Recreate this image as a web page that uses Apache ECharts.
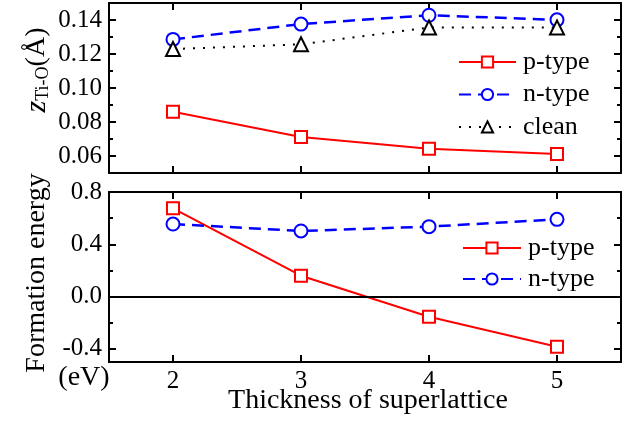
<!DOCTYPE html>
<html>
<head>
<meta charset="utf-8">
<script src="https://cdn.jsdelivr.net/npm/echarts@6/dist/echarts.min.js"></script>
<style>
html,body{margin:0;padding:0;background:#fff;}
#chart{width:635px;height:424px;}
</style>
</head>
<body>
<div id="chart"></div>
<script>
// ---- data ----
const categories = ['2', '3', '4', '5'];
const seriesNames = ['p-type', 'n-type', 'clean'];
const topP = [0.086, 0.0712, 0.0643, 0.0612];
const topN = [0.1286, 0.1376, 0.1428, 0.1401];
const topClean = [0.1229, 0.1257, 0.1356, 0.1356];
const botP = [0.675, 0.160, -0.154, -0.383];
const botN = [0.555, 0.502, 0.535, 0.591];
const topRange = [0.05, 0.15];
const topTickRange = [0.06, 0.14];
const botRange = [-0.5, 0.8];
const botTickRange = [-0.4, 0.8];

const FONT = 'Liberation Serif';
const RED = '#ff0000', BLUE = '#0000ff', BLACK = '#000000';

const L = 109, W = 512;
const G0 = {top: 3, h: 170}, G1 = {top: 192, h: 170};
function yPix(g, range, v) { return g.top + (range[1] - v) / (range[1] - range[0]) * g.h; }
const g2top = yPix(G0, topRange, topTickRange[1]);
const g2bot = yPix(G0, topRange, topTickRange[0]);
const g3top = yPix(G1, botRange, botTickRange[1]);
const g3bot = yPix(G1, botRange, botTickRange[0]);

const frameLine = {show: true, onZero: false, lineStyle: {color: BLACK, width: 2}};

function catAxis(grid, pos, labels) {
  return {
    type: 'category', gridIndex: grid, position: pos, data: categories, boundaryGap: true,
    axisLine: frameLine,
    axisTick: {show: true, inside: true, alignWithLabel: true, length: 7, lineStyle: {color: BLACK, width: 2}},
    axisLabel: {show: labels, color: BLACK, fontFamily: FONT, fontSize: 25, margin: 7},
    splitLine: {show: false}
  };
}
function frameY(grid, pos, range) {
  return {
    type: 'value', gridIndex: grid, position: pos, min: range[0], max: range[1],
    axisLine: frameLine, axisTick: {show: false}, axisLabel: {show: false}, splitLine: {show: false}
  };
}
function tickY(grid, pos, range, interval, labels, digits) {
  return {
    type: 'value', gridIndex: grid, position: pos, min: range[0], max: range[1], interval: interval,
    axisLine: {show: false},
    axisTick: {show: true, inside: true, length: 7, lineStyle: {color: BLACK, width: 2}},
    minorTick: {show: true, splitNumber: 2, length: 4, lineStyle: {color: BLACK, width: 2}},
    axisLabel: {show: labels, color: BLACK, fontFamily: FONT, fontSize: 25, margin: 7,
      formatter: v => Number(v).toFixed(digits)},
    splitLine: {show: false}, minorSplitLine: {show: false}
  };
}

const chart = echarts.init(document.getElementById('chart'), null, {renderer: 'canvas'});
const option = {
  backgroundColor: '#fff',
  animation: false,
  textStyle: {fontFamily: FONT},
  grid: [
    {left: L, width: W, top: G0.top, height: G0.h},
    {left: L, width: W, top: G1.top, height: G1.h},
    {left: L, width: W, top: g2top, height: g2bot - g2top},
    {left: L, width: W, top: g3top, height: g3bot - g3top}
  ],
  xAxis: [
    catAxis(0, 'bottom', false),
    catAxis(0, 'top', false),
    catAxis(1, 'bottom', true),
    catAxis(1, 'top', false),
    {type: 'category', gridIndex: 2, data: categories, show: false},
    {type: 'category', gridIndex: 3, data: categories, show: false}
  ],
  yAxis: [
    frameY(0, 'left', topRange),
    frameY(0, 'right', topRange),
    frameY(1, 'left', botRange),
    frameY(1, 'right', botRange),
    tickY(2, 'left', topTickRange, 0.02, true, 2),
    tickY(2, 'right', topTickRange, 0.02, false, 2),
    tickY(3, 'left', botTickRange, 0.4, true, 1),
    tickY(3, 'right', botTickRange, 0.4, false, 1)
  ],
  legend: [
    {
      data: seriesNames, orient: 'vertical', left: 458, top: 49, padding: 0,
      itemWidth: 57, itemHeight: 14, itemGap: 6.5,
      textStyle: {color: BLACK, fontFamily: FONT, fontSize: 26, padding: [0, 0, 0, 2]},
      selectedMode: false
    },
    {
      data: seriesNames.slice(0, 2), orient: 'vertical', left: 462, top: 235, padding: 0,
      itemWidth: 58, itemHeight: 14, itemGap: 5,
      textStyle: {color: BLACK, fontFamily: FONT, fontSize: 26, padding: [0, 0, 0, 2]},
      selectedMode: false
    }
  ],
  series: [
    {
      name: seriesNames[0], type: 'line', xAxisIndex: 0, yAxisIndex: 0, data: topP,
      symbol: 'emptyRect', symbolSize: 12,
      lineStyle: {color: RED, width: 2, type: 'solid'},
      itemStyle: {color: RED, borderWidth: 1.5}
    },
    {
      name: seriesNames[1], type: 'line', xAxisIndex: 0, yAxisIndex: 0, data: topN,
      symbol: 'emptyCircle', symbolSize: 13,
      lineStyle: {color: BLUE, width: 2.5, type: [12, 7]},
      itemStyle: {color: BLUE, borderWidth: 1.5}
    },
    {
      name: seriesNames[2], type: 'line', xAxisIndex: 0, yAxisIndex: 0, data: topClean,
      symbol: 'emptyTriangle', symbolSize: 14,
      lineStyle: {color: BLACK, width: 2, type: [2, 8]},
      itemStyle: {color: BLACK, borderWidth: 1.5}
    },
    {
      name: seriesNames[0], type: 'line', xAxisIndex: 2, yAxisIndex: 2, data: botP,
      symbol: 'emptyRect', symbolSize: 12,
      lineStyle: {color: RED, width: 2, type: 'solid'},
      itemStyle: {color: RED, borderWidth: 1.5},
      markLine: {
        silent: true, symbol: 'none', label: {show: false},
        lineStyle: {color: BLACK, width: 2, type: 'solid'},
        data: [{yAxis: 0}]
      }
    },
    {
      name: seriesNames[1], type: 'line', xAxisIndex: 2, yAxisIndex: 2, data: botN,
      symbol: 'emptyCircle', symbolSize: 13,
      lineStyle: {color: BLUE, width: 2.5, type: [12, 7]},
      itemStyle: {color: BLUE, borderWidth: 1.5}
    }
  ],
  graphic: [
    {
      type: 'text', x: 37, y: 70, rotation: Math.PI / 2,
      style: {
        text: '{z|z}{s|Ti-O}{n|(Å)}', textAlign: 'center', textVerticalAlign: 'middle',
        fill: BLACK, fontFamily: FONT, fontSize: 28,
        rich: {
          z: {fontFamily: FONT, fontSize: 30, fontStyle: 'italic', lineHeight: 30, verticalAlign: 'middle', fill: BLACK},
          s: {fontFamily: FONT, fontSize: 18, lineHeight: 18, verticalAlign: 'bottom', fill: BLACK},
          n: {fontFamily: FONT, fontSize: 28, lineHeight: 30, verticalAlign: 'middle', fill: BLACK}
        }
      }
    },
    {
      type: 'text', x: 37, y: 273, rotation: Math.PI / 2,
      style: {text: 'Formation energy', textAlign: 'center', textVerticalAlign: 'middle', fill: BLACK, fontFamily: FONT, fontSize: 28}
    },
    {
      type: 'text', x: 84, y: 378,
      style: {text: '(eV)', textAlign: 'center', textVerticalAlign: 'middle', fill: BLACK, fontFamily: FONT, fontSize: 28}
    },
    {
      type: 'text', x: 368, y: 401,
      style: {text: 'Thickness of superlattice', textAlign: 'center', textVerticalAlign: 'middle', fill: BLACK, fontFamily: FONT, fontSize: 28}
    }
  ]
};
chart.setOption(option);
</script>
</body>
</html>
